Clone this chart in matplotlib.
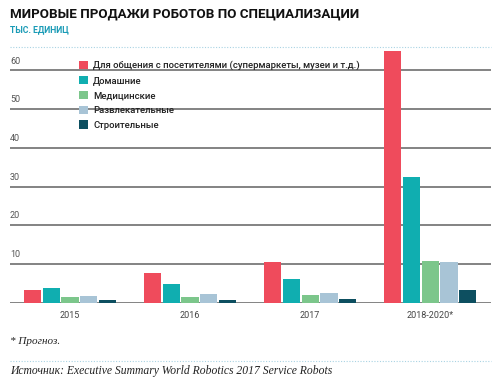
import matplotlib

matplotlib.use("Agg")
import matplotlib.pyplot as plt
from matplotlib.patches import Patch
from matplotlib.transforms import blended_transform_factory, offset_copy

# --- data (thousand units) ---
years = ["2015", "2016", "2017", "2018-2020*"]
series_names = [
    "Для общения с посетителями (супермаркеты, музеи и т.д.)",
    "Домашние",
    "Медицинские",
    "Развлекательные",
    "Строительные",
]
visitors = [3.3, 7.6, 10.4, 65.0]
household = [3.7, 4.8, 6.2, 32.6]
medical = [1.4, 1.6, 2.1, 10.8]
entertainment = [1.7, 2.2, 2.6, 10.6]
construction = [0.7, 0.8, 0.95, 3.3]
y_ticks = [0, 10, 20, 30, 40, 50, 60]

colors = ["#ef4b5c", "#10aeb0", "#7cc68b", "#a8c4d6", "#0d4f60"]
grid_color = "#7a7a7a"
teal_text = "#1a9bb6"

plt.rcParams["font.family"] = ["Roboto", "DejaVu Sans"]

fig = plt.figure(figsize=(5.0, 3.77), dpi=100)
W, H = 500, 377
ax = fig.add_axes([10 / W, (H - 302.7) / H, 481 / W, 253.5 / H])

values = [visitors, household, medical, entertainment, construction]
bar_w = 0.142
step = 0.158
for i, (vals, col) in enumerate(zip(values, colors)):
    xs = [k + (i - 2) * step for k in range(len(years))]
    ax.bar(xs, vals, width=bar_w, color=col, zorder=3, linewidth=0)

ax.set_xlim(-0.5, 3.508)
ax.set_ylim(0, 65.5)
ax.set_yticks(y_ticks)
ax.set_yticklabels([])
ax.tick_params(axis="y", length=0)
ax.yaxis.grid(True, color=grid_color, linewidth=1.3, zorder=1)
ax.set_xticks(range(len(years)))
ax.set_xticklabels(years, fontsize=6.5, color="#444444")
ax.tick_params(axis="x", length=0, pad=6)
for s in ax.spines.values():
    s.set_visible(False)

# y labels above grid lines, left-aligned
tr = offset_copy(blended_transform_factory(ax.transAxes, ax.transData),
                 fig=fig, x=0, y=3.5, units="points")
for t in y_ticks[1:]:
    ax.text(0.0, t, str(t), transform=tr, fontsize=6.5, color="#555555",
            ha="left", va="bottom")

handles = [Patch(facecolor=c, edgecolor="none") for c in colors]
leg = fig.legend(handles, series_names, loc="upper left",
                 bbox_to_anchor=(79 / W, 1 - 61 / H), frameon=False,
                 prop={"size": 6.8, "weight": "medium"},
                 handlelength=0.95, handleheight=0.95,
                 handletextpad=0.55, labelspacing=0.58, borderaxespad=0,
                 borderpad=0)
for txt in leg.get_texts():
    txt.set_color("#222222")

# titles
fig.text(10 / W, 1 - 14 / H, "МИРОВЫЕ ПРОДАЖИ РОБОТОВ ПО СПЕЦИАЛИЗАЦИИ",
         fontsize=9.6, fontweight="bold", color="#111111", va="center", ha="left")
fig.text(10 / W, 1 - 30 / H, "ТЫС. ЕДИНИЦ", fontsize=6.2, fontweight="bold",
         color=teal_text, va="center", ha="left")

# dotted separators
for yy in (46.5, 360.7):
    fig.add_artist(plt.Line2D([10 / W, 491 / W], [1 - yy / H, 1 - yy / H],
                              color="#a9d3e3", linewidth=0.8, linestyle=(0, (1, 1.5))))

fig.text(10 / W, 1 - 342 / H, "* Прогноз.", fontsize=8, style="italic",
         family=["Liberation Serif", "DejaVu Serif"], color="#222222",
         va="center", ha="left")
fig.text(10 / W, 1 - 371 / H,
         "Источник: Executive Summary World Robotics 2017 Service Robots",
         fontsize=8.4, style="italic", family=["Liberation Serif", "DejaVu Serif"],
         color="#222222", va="center", ha="left")

fig.savefig("out.png", dpi=100)
